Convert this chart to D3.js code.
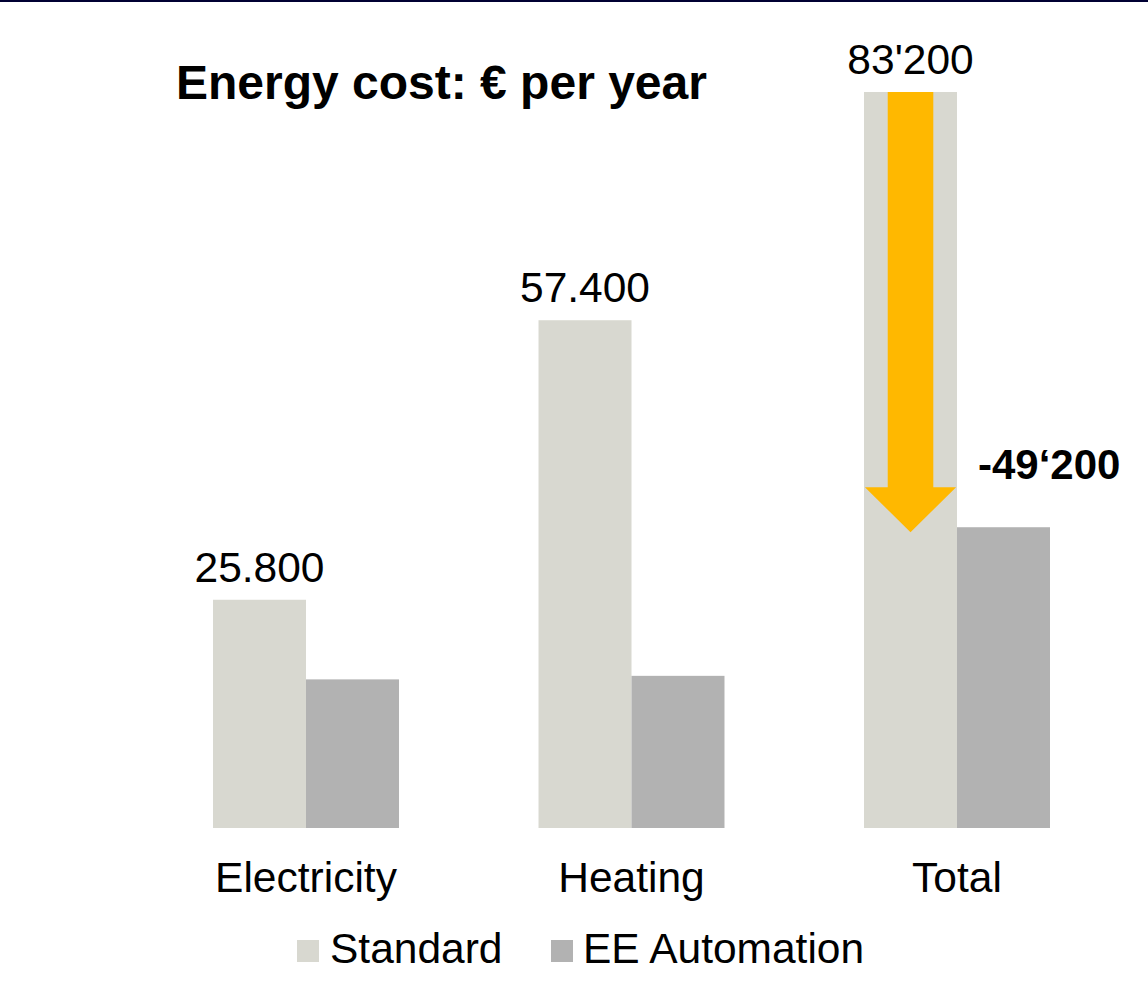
<!DOCTYPE html>
<html>
<head>
<meta charset="utf-8">
<script src="https://cdn.jsdelivr.net/npm/d3@7/dist/d3.min.js"></script>
<style>
  html, body { margin: 0; padding: 0; background: #ffffff; }
  svg { display: block; font-family: "Liberation Sans", Arial, sans-serif; }
</style>
</head>
<body>
<svg id="chart" width="1148" height="997"></svg>
<script>
// ---- data ----
const categories = ["Electricity", "Heating", "Total"];
const seriesNames = ["Standard", "EE Automation"];
const standardValues = [25800, 57400, 83200];
const eeValues = [16800, 17200, 34000];
const valueLabels = ["25.800", "57.400", "83'200"];
const savingLabel = "-49\u2018200";
const titleText = "Energy cost: \u20ac per year";

// ---- styles ----
const colors = { "Standard": "#d8d8d0", "EE Automation": "#b2b2b2" };
const arrowColor = "#ffb800";
const fs = 42.5;

const svg = d3.select("#chart");
const W = 1148, H = 997;

// top border line
svg.append("rect").attr("x", 0).attr("y", 0).attr("width", W).attr("height", 2).attr("fill", "#000033");

const x = d3.scaleBand().domain(categories).range([213, 1050]).paddingInner(0.4286).paddingOuter(0);
const xs = d3.scaleBand().domain(seriesNames).range([0, x.bandwidth()]).padding(0);
const y = d3.scaleLinear().domain([0, 83200]).range([828, 92]);

const rows = categories.map((c, i) => ({
  cat: c,
  values: [
    { s: "Standard", v: standardValues[i] },
    { s: "EE Automation", v: eeValues[i] }
  ],
  label: valueLabels[i]
}));

const g = svg.append("g");
const groups = g.selectAll("g.grp").data(rows).join("g")
  .attr("class", "grp")
  .attr("transform", d => `translate(${x(d.cat)},0)`);

groups.selectAll("rect").data(d => d.values).join("rect")
  .attr("x", d => xs(d.s))
  .attr("y", d => y(d.v))
  .attr("width", xs.bandwidth())
  .attr("height", d => y(0) - y(d.v))
  .attr("fill", d => colors[d.s]);

// value labels above standard bars
groups.append("text")
  .attr("x", xs("Standard") + xs.bandwidth() / 2)
  .attr("y", d => y(d.values[0].v) - 18)
  .attr("text-anchor", "middle")
  .attr("font-size", fs)
  .attr("fill", "#000")
  .text(d => d.label);

// category axis labels
const xAxis = d3.axisBottom(x).tickSize(0).tickPadding(0);
const ax = svg.append("g").attr("transform", `translate(0,${y(0)})`).call(xAxis);
ax.select(".domain").remove();
ax.selectAll("text")
  .attr("font-size", fs)
  .attr("font-family", "Liberation Sans, Arial, sans-serif")
  .attr("fill", "#000")
  .attr("dy", null)
  .attr("y", 64);

// arrow on Total standard bar
const totalIdx = 2;
const bx = x(categories[totalIdx]) + xs("Standard");
const bw = xs.bandwidth();
const cx = bx + bw / 2;
const shaftW = bw * 0.49;
const headW = bw * 0.98;
const tipY = y(eeValues[totalIdx]) + 5;
const headH = 45;
const topY = y(standardValues[totalIdx]);
const arrowPath = d3.path();
arrowPath.moveTo(cx - shaftW / 2, topY);
arrowPath.lineTo(cx + shaftW / 2, topY);
arrowPath.lineTo(cx + shaftW / 2, tipY - headH);
arrowPath.lineTo(cx + headW / 2, tipY - headH);
arrowPath.lineTo(cx, tipY);
arrowPath.lineTo(cx - headW / 2, tipY - headH);
arrowPath.lineTo(cx - shaftW / 2, tipY - headH);
arrowPath.closePath();
svg.append("path").attr("d", arrowPath.toString()).attr("fill", arrowColor);

// saving label
svg.append("text")
  .attr("x", x(categories[totalIdx]) + xs("EE Automation") + 21)
  .attr("y", y(eeValues[totalIdx]) - 48)
  .attr("font-size", 42)
  .attr("font-weight", "bold")
  .attr("fill", "#000")
  .text(savingLabel);

// title
svg.append("text")
  .attr("x", 176)
  .attr("y", 99)
  .attr("font-size", 48)
  .attr("font-weight", "bold")
  .attr("fill", "#000")
  .text(titleText);

// legend
const legend = svg.append("g");
const legendItems = [
  { name: "Standard", sx: 297, tx: 330 },
  { name: "EE Automation", sx: 551, tx: 583 }
];
legendItems.forEach(it => {
  legend.append("rect").attr("x", it.sx).attr("y", 940).attr("width", 22).attr("height", 22).attr("fill", colors[it.name]);
  legend.append("text").attr("x", it.tx).attr("y", 963).attr("font-size", fs).attr("fill", "#000").text(it.name);
});
</script>
</body>
</html>
